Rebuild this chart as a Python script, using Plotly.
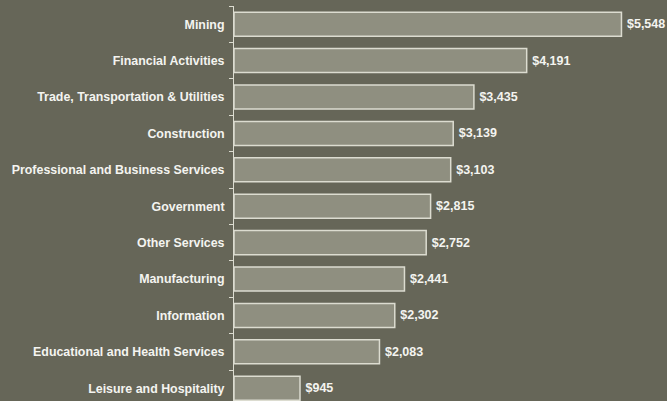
import plotly.graph_objects as go

categories = ["Mining", "Financial Activities", "Trade, Transportation & Utilities",
              "Construction", "Professional and Business Services", "Government",
              "Other Services", "Manufacturing", "Information",
              "Educational and Health Services", "Leisure and Hospitality"]
values = [5548, 4191, 3435, 3139, 3103, 2815, 2752, 2441, 2302, 2083, 945]
value_labels = ["\u2009$" + format(v, ",") for v in values]

BG = "#666658"
FONT = "Liberation Sans, Arial"
fig = go.Figure(go.Bar(
    x=values, y=categories, orientation="h",
    marker=dict(color="#8f8f80", line=dict(color="#dcdcd0", width=1.5)),
    text=value_labels, textposition="outside", cliponaxis=False,
    textfont=dict(family=FONT, size=12.5, color="#f4f4f0", weight="bold"),
    width=0.66,
))
fig.update_layout(
    width=667, height=401,
    margin=dict(l=234, r=0, t=6, b=0),
    paper_bgcolor=BG, plot_bgcolor=BG,
    showlegend=False,
    font=dict(family=FONT, size=12, color="#f4f4f0"),
    xaxis=dict(range=[0, 6200], visible=False, showgrid=False, zeroline=False),
    yaxis=dict(type="category", categoryorder="array", categoryarray=categories,
               range=[10.35, -0.5], showgrid=False, zeroline=False,
               showline=True, linecolor="#dcdcd0", linewidth=1,
               ticks="outside", ticklen=4, tickcolor="#dcdcd0", tickson="boundaries",
               tickfont=dict(family=FONT, size=12.4, color="#f4f4f0", weight="bold"),
               ticklabelstandoff=6),
)
fig.write_html("out.html", config={"displayModeBar": False},
               post_script="document.body.style.margin='0';document.body.style.padding='0';"
                           "document.body.style.overflow='hidden';")
